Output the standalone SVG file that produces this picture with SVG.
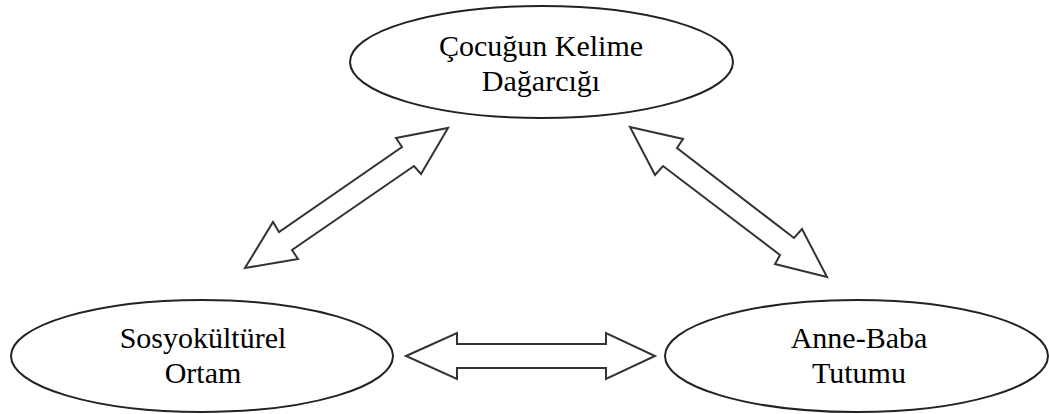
<svg xmlns="http://www.w3.org/2000/svg" width="1049" height="414" viewBox="0 0 1049 414">
<style>
.node ellipse{fill:#fff;stroke:#222;stroke-width:2}
.node text{font-family:"Liberation Serif","Times New Roman",serif;font-size:30px;fill:#000;text-anchor:middle}
.conn polygon{fill:#fff;stroke:#333;stroke-width:2;stroke-linejoin:miter}
</style>
<rect width="1049" height="414" fill="#fff"/>
<g id="node-cocugun" class="node">
<ellipse cx="541.5" cy="62" rx="191.5" ry="56"/>
<text x="541" y="56">Çocuğun Kelime</text>
<text x="541" y="91">Dağarcığı</text>
</g>
<g id="node-sosyokulturel" class="node">
<ellipse cx="202" cy="356" rx="191" ry="56"/>
<text x="203" y="348">Sosyokültürel</text>
<text x="203" y="383">Ortam</text>
</g>
<g id="node-annebaba" class="node">
<ellipse cx="856.5" cy="356" rx="191.5" ry="56"/>
<text x="859" y="348">Anne-Baba</text>
<text x="859" y="383">Tutumu</text>
</g>
<g id="connectors" class="conn">
<polygon points="448,128 421,174 414,166 292,250 298,259 245,268 273,222 279,232 402,147 396,138"/>
<polygon points="630,127 683,139 677,148 794,238 802,229 827,277 775,264 780,255 663,166 655,175"/>
<polygon points="406,356 457,333 457,344 606,344 606,333 655,356 606,379 606,368 457,368 457,379"/>
</g>
</svg>
